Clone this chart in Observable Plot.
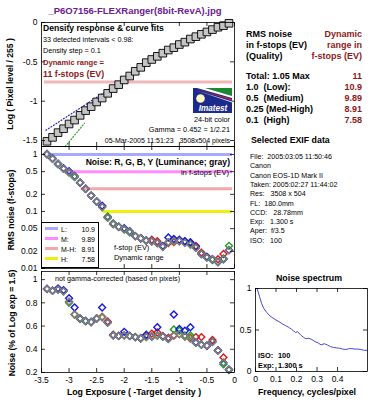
<!DOCTYPE html>
<html><head><meta charset="utf-8">
<script src="https://cdn.jsdelivr.net/npm/d3@7"></script>
<script src="https://cdn.jsdelivr.net/npm/@observablehq/plot@0.6"></script>
<style>
body{margin:0;background:#fff}
#root{position:relative;width:373px;height:400px;overflow:hidden;background:#fff;font-family:"Liberation Sans",Arial,sans-serif;color:#000}
.t{position:absolute;white-space:pre;line-height:1}
</style></head><body><div id="root"></div>
<script>
// ---------- data ----------
const logExposure = [-3.4,-3.3,-3.2,-3.1,-3.0,-2.9,-2.8,-2.7,-2.6,-2.5,-2.4,-2.3,-2.2,-2.1,-2.0,-1.9,-1.8,-1.7,-1.6,-1.5,-1.4,-1.3,-1.2,-1.1,-1.0,-0.9,-0.8,-0.7,-0.6,-0.5,-0.4,-0.3,-0.2,-0.1];
const densityResponse = [-1.51,-1.46,-1.40,-1.35,-1.29,-1.24,-1.18,-1.12,-1.07,-1.01,-0.96,-0.90,-0.84,-0.79,-0.73,-0.68,-0.62,-0.57,-0.51,-0.47,-0.43,-0.39,-0.35,-0.32,-0.28,-0.25,-0.21,-0.18,-0.15,-0.12,-0.09,-0.06,-0.04,-0.01];
const blueFitX = [-3.42,-2.1], blueFitY = [-1.37,-0.77];
const greenFitX = [-3.07,-2.72], greenFitY = [-1.576,-1.28];
const topRangeLevel = [-0.755];

const noiseY = [1.02,0.84,0.68,0.56,0.49,0.41,0.32,0.25,0.19,0.15,0.12,0.078,0.06,0.054,0.049,0.044,0.037,0.034,0.031,0.030,0.028,0.024,0.029,0.030,0.030,0.028,0.026,0.023,0.018,0.0155,0.0145,0.013,0.0145,0.021];
const noiseR = [1.01,0.85,0.68,0.57,0.49,0.41,0.32,0.25,0.19,0.15,0.12,0.079,0.061,0.054,0.049,0.044,0.037,0.034,0.031,0.032,0.030,0.024,0.028,0.029,0.030,0.029,0.028,0.025,0.019,0.016,0.0145,0.0145,0.018,0.021];
const noiseG = [1.01,0.84,0.67,0.56,0.48,0.40,0.32,0.25,0.19,0.15,0.12,0.082,0.062,0.054,0.048,0.043,0.037,0.034,0.031,0.030,0.028,0.024,0.029,0.031,0.031,0.030,0.027,0.023,0.018,0.0155,0.014,0.013,0.015,0.025];
const noiseB = [1.02,0.85,0.69,0.57,0.51,0.42,0.32,0.25,0.19,0.15,0.126,0.078,0.06,0.054,0.051,0.045,0.037,0.034,0.031,0.030,0.028,0.025,0.035,0.033,0.032,0.030,0.029,0.024,0.018,0.016,0.0145,0.013,0.0145,0.021];

const pctY = [0.92,0.905,0.915,0.90,0.81,0.70,0.665,0.645,0.635,0.665,0.675,0.63,0.52,0.515,0.52,0.515,0.505,0.495,0.505,0.51,0.515,0.51,0.49,0.515,0.53,0.51,0.49,0.455,0.44,0.43,0.465,0.39,0.285,0.225];
const pctR = [0.92,0.905,0.915,0.90,0.81,0.70,0.665,0.645,0.635,0.665,0.68,0.64,0.525,0.515,0.52,0.515,0.505,0.495,0.51,0.535,0.545,0.515,0.50,0.52,0.53,0.51,0.50,0.505,0.505,0.43,0.48,0.39,0.33,0.225];
const pctG = [0.92,0.905,0.915,0.90,0.80,0.70,0.66,0.64,0.635,0.665,0.675,0.63,0.52,0.515,0.52,0.515,0.505,0.495,0.505,0.51,0.52,0.51,0.49,0.57,0.56,0.52,0.52,0.455,0.44,0.43,0.465,0.39,0.27,0.22];
const pctB = [0.92,0.905,0.925,0.91,0.84,0.76,0.665,0.645,0.635,0.665,0.76,0.63,0.52,0.515,0.55,0.515,0.505,0.495,0.525,0.51,0.59,0.51,0.49,0.70,0.575,0.56,0.59,0.46,0.44,0.43,0.465,0.39,0.285,0.225];

const drLabels = ["L:","M:","M-H:","H:"];
const drValues = [10.9,9.89,8.91,7.58];
const drThresholds = [1,0.5,0.25,0.1];

const spectrumFreq = [0.008,0.02,0.03,0.04,0.055,0.07,0.085,0.1,0.115,0.13,0.145,0.16,0.175,0.185,0.195,0.205,0.22,0.235,0.245,0.26,0.275,0.29,0.305,0.32,0.335,0.35,0.365,0.38,0.395,0.41,0.425,0.44,0.455,0.47,0.485,0.5,0.515,0.53,0.545];
const spectrumAmp = [1.0,0.9,0.82,0.76,0.71,0.67,0.645,0.62,0.6,0.575,0.555,0.535,0.51,0.49,0.47,0.48,0.44,0.41,0.395,0.4,0.385,0.36,0.345,0.32,0.335,0.32,0.3,0.29,0.285,0.28,0.27,0.265,0.275,0.275,0.27,0.27,0.265,0.255,0.255];

const xTicks = [-3.5,-3,-2.5,-2,-1.5,-1,-0.5,0];
const topYTicks = [0,-0.5,-1,-1.5];
const midYTicks = [1,0.5,0.2,0.1,0.05,0.02,0.01];
const botYTicks = [1,0.8,0.6,0.4,0.2];
const specXTicks = [0,0.1,0.2,0.3,0.4];
const specYTicks = [0,0.5,1];

const qualityLabels = ["Total: 1.05 Max","1.0  (Low):","0.5  (Medium)","0.25 (Med-High)","0.1  (High)"];
const rangeLabels = ["11","10.9","9.89","8.91","7.58"];
const exifLines = ["File:  2005:03:05 11:50:46","Canon","Canon EOS-1D Mark II","Taken: 2005:02:27 11:44:02","Res:   3508 x 504","FL:  180.0mm","CCD:   28.78mm","Exp:   1.300 s","Aper:  f/3.5","ISO:   100"];

// ---------- styles ----------
const channelColors = {R:"#e01818", G:"#18a018", B:"#1818e0", Y:"#808080"};
const drColors = ["#a8a8ff","#ff8cff","#f4a8a8","#eeee10"];
const darkRed = "#8b1a1a";

const root = document.getElementById("root");
function addText(str, x, y, o = {}) {
  const d = document.createElement("div");
  d.className = "t";
  d.textContent = str;
  const size = o.size || 8;
  d.style.fontSize = size + "px";
  d.style.fontWeight = o.weight || "normal";
  d.style.color = o.color || "#000";
  if (o.italic) d.style.fontStyle = "italic";
  d.style.left = x + "px";
  d.style.top = y + "px";
  const tx = o.anchor === "end" ? "-100%" : o.anchor === "middle" ? "-50%" : "0";
  d.style.transform = o.rotate ? "translate(-50%,-50%) rotate(-90deg)" : `translate(${tx},-50%)`;
  root.appendChild(d);
  return d;
}
function place(svg, left, top) {
  svg.style.position = "absolute";
  svg.style.left = left + "px";
  svg.style.top = top + "px";
  root.appendChild(svg);
}
const svgStyle = "background:transparent;overflow:visible;font-family:'Liberation Sans',Arial,sans-serif;font-size:8.5px;color:#000;";

const FL = 41, FR = 234, PAD = 12;
function leftPanel({frameTop, frameBottom, y, yTicks, marks, xLabels}) {
  const H = frameBottom - frameTop, W = FR - FL;
  const svg = Plot.plot({
    width: 240, height: H + 2 * PAD,
    marginLeft: FL, marginRight: 240 - FR, marginTop: PAD, marginBottom: PAD,
    x: {domain: [-3.5, 0], axis: null},
    y: {...y, axis: null},
    style: svgStyle,
    marks: [
      ...marks,
      Plot.frame({stroke: "#000", strokeWidth: 0.8}),
      Plot.tickX(xTicks, {x: d => d, insetTop: H - 4, strokeWidth: 0.8}),
      Plot.tickX(xTicks, {x: d => d, insetBottom: H - 4, strokeWidth: 0.8}),
      Plot.tickY(yTicks, {y: d => d, insetRight: W - 4, strokeWidth: 0.8}),
      Plot.tickY(yTicks, {y: d => d, insetLeft: W - 4, strokeWidth: 0.8}),
      Plot.axisY({ticks: yTicks, tickSize: 0, tickPadding: 4, tickFormat: d => String(d), label: null, fontSize: 8.5}),
      ...(xLabels ? [Plot.axisX({ticks: xTicks, tickSize: 0, tickPadding: 4, tickFormat: d => String(d), label: null, fontSize: 8.5})] : [])
    ]
  });
  place(svg, 0, frameTop - PAD);
}

// ---------- top panel: density response ----------
const topData = logExposure.map((x, i) => ({x, y: densityResponse[i]}));
leftPanel({
  frameTop: 22, frameBottom: 146,
  y: {domain: [-1.576, 0]},
  yTicks: topYTicks,
  marks: [
    Plot.ruleY(topRangeLevel, {y: d => d, stroke: "#f0b8b8", strokeWidth: 3, insetLeft: 3, insetRight: 2}),
    Plot.line(blueFitX.map((x, i) => ({x, y: blueFitY[i]})), {x: "x", y: "y", stroke: "#2828b8", strokeWidth: 1.2, strokeDasharray: "1,2"}),
    Plot.line(greenFitX.map((x, i) => ({x, y: greenFitY[i]})), {x: "x", y: "y", stroke: "#28a028", strokeWidth: 1.2, strokeDasharray: "1,2"}),
    Plot.dot(topData, {x: "x", y: "y", symbol: "square", r: 4.3, fill: "#c4c4c4", stroke: "#000", strokeWidth: 0.9})
  ]
});

// ---------- middle panel: RMS noise ----------
function channelRows(values, ch) { return logExposure.map((x, i) => ({x, v: values[i], ch})); }
const ln2 = Math.log10(2);
const drRows = drThresholds.map((t, i) => ({t, x1: -0.1 - drValues[i] * ln2, color: drColors[i]}));
const midDots = [...channelRows(noiseR, "R"), ...channelRows(noiseG, "G"), ...channelRows(noiseB, "B"), ...channelRows(noiseY, "Y")];
leftPanel({
  frameTop: 146, frameBottom: 268,
  y: {type: "log", domain: [0.01, 1.38]},
  yTicks: midYTicks,
  marks: [
    Plot.ruleY(drRows, {y: "t", x1: "x1", x2: 0, stroke: "color", strokeWidth: 3, insetRight: 2}),
    Plot.dot(midDots, {x: "x", y: "v", symbol: "diamond2", r: 3.1, fill: "none", stroke: d => channelColors[d.ch], strokeWidth: 1.4})
  ]
});

// ---------- bottom panel: noise % ----------
const botDots = [...channelRows(pctR, "R"), ...channelRows(pctG, "G"), ...channelRows(pctB, "B"), ...channelRows(pctY, "Y")];
leftPanel({
  frameTop: 271, frameBottom: 372,
  y: {domain: [0.2, 1.07]},
  yTicks: botYTicks,
  xLabels: true,
  marks: [
    Plot.dot(botDots, {x: "x", y: "v", symbol: "diamond2", r: 3.1, fill: "none", stroke: d => channelColors[d.ch], strokeWidth: 1.4})
  ]
});

// ---------- noise spectrum ----------
{
  const frameTop = 288, frameBottom = 371, left = 235, fl = 20, fr = 6, width = 373 - left;
  const H = frameBottom - frameTop, W = width - fl - fr;
  const svg = Plot.plot({
    width, height: H + 2 * PAD,
    marginLeft: fl, marginRight: fr, marginTop: PAD, marginBottom: PAD,
    x: {domain: [0, 0.546], axis: null},
    y: {domain: [0, 1], axis: null},
    style: svgStyle,
    marks: [
      Plot.line(spectrumFreq.map((f, i) => ({f, a: spectrumAmp[i]})), {x: "f", y: "a", stroke: "#4848d0", strokeWidth: 1}),
      Plot.frame({stroke: "#000", strokeWidth: 0.8}),
      Plot.tickX(specXTicks, {x: d => d, insetTop: H - 4, strokeWidth: 0.8}),
      Plot.tickX(specXTicks, {x: d => d, insetBottom: H - 4, strokeWidth: 0.8}),
      Plot.tickY(specYTicks, {y: d => d, insetRight: W - 4, strokeWidth: 0.8}),
      Plot.tickY(specYTicks, {y: d => d, insetLeft: W - 4, strokeWidth: 0.8}),
      Plot.axisY({ticks: specYTicks, tickSize: 0, tickPadding: 4, tickFormat: d => String(d), label: null, fontSize: 8.5}),
      Plot.axisX({ticks: specXTicks, tickSize: 0, tickPadding: 4, tickFormat: d => String(d), label: null, fontSize: 8.5})
    ]
  });
  place(svg, left, frameTop - PAD);
}

// ---------- texts ----------
addText("_P6O7156-FLEXRanger(8bit-RevA).jpg", 135, 11, {size: 9.5, weight: "bold", color: "#6a2090", anchor: "middle"});

addText("Density response & curve fits", 43, 28, {size: 8.6, weight: "bold"});
addText("33 detected intervals < 0.98:", 43, 40, {size: 7.2});
addText("Density step = 0.1", 43, 51, {size: 7.2});
addText("Dynamic range =", 43, 62.5, {size: 7.6, weight: "bold", color: darkRed});
addText("11 f-stops (EV)", 43, 74, {size: 8.8, weight: "bold", color: darkRed});
addText("24-bit color", 230, 120, {size: 7.3, anchor: "end"});
addText("Gamma = 0.452 = 1/2.21", 230, 130, {size: 7.3, anchor: "end"});
addText("05-Mar-2005 11:51:23   3508x504 pixels", 230, 140, {size: 7.0, anchor: "end"});

// Imatest logo
{
  const d = document.createElement("div");
  d.style.cssText = "position:absolute;left:193px;top:88px;width:39px;height:25px;";
  d.innerHTML = `<svg width="39" height="25" viewBox="0 0 39 25">
    <rect width="39" height="25" fill="#1c2a8c"/>
    <polygon points="12,0 39,0 39,8" fill="#1a8a2e"/>
    <polygon points="4,0 12,0 39,8 39,10" fill="#ffffff"/>
    <polygon points="3,1 39,11 39,12.5" fill="#d02020"/>
    <polygon points="2,2 39,13.5 39,14.5" fill="#e8e8ff"/>
    <circle cx="7.5" cy="10.5" r="4.3" fill="#fff8c0"/>
    <text x="20" y="22.5" font-size="8.2" font-style="italic" font-weight="bold" fill="#fff" text-anchor="middle" font-family="Liberation Sans, Arial">Imatest</text>
  </svg>`;
  root.appendChild(d);
}

addText("Noise: R, G, B, Y (Luminance; gray)", 230, 162, {size: 8.6, weight: "bold", anchor: "end"});
addText("in f-stops (EV)", 229, 172.5, {size: 7.6, anchor: "end"});
addText("f-stop (EV)", 114, 248, {size: 7.4});
addText("Dynamic range", 114, 258, {size: 7.4});

// legend box
{
  const box = document.createElement("div");
  box.style.cssText = "position:absolute;left:41px;top:222px;width:58px;height:46px;border:0.8px solid #000;background:#fff;box-sizing:border-box;";
  root.appendChild(box);
  drLabels.forEach((lab, i) => {
    const y = 228.5 + i * 10;
    const l = document.createElement("div");
    l.style.cssText = `position:absolute;left:45px;top:${y - 1.5}px;width:13px;height:3px;background:${drColors[i]};`;
    root.appendChild(l);
    addText(lab, 61, y, {size: 7});
    addText(String(drValues[i]), 95, y, {size: 7, anchor: "end"});
  });
}

addText("not gamma-corrected (based on pixels)", 55, 278.5, {size: 7.2});

// axis titles
addText("Log ( Pixel level / 255 )", 10, 84, {size: 8.6, weight: "bold", rotate: true});
addText("RMS noise (f-stops)", 11, 210, {size: 8.6, weight: "bold", rotate: true});
addText("Noise (% of Log exp = 1.5)", 12, 323, {size: 8.6, weight: "bold", rotate: true});
addText("Log Exposure ( -Target density )", 134, 391.5, {size: 8.8, weight: "bold", anchor: "middle"});

// right column
addText("RMS noise", 246, 34, {size: 9, weight: "bold"});
addText("in f-stops (EV)", 246, 45, {size: 9, weight: "bold"});
addText("(Quality)", 246, 56, {size: 9, weight: "bold"});
addText("Dynamic", 362, 34, {size: 9, weight: "bold", color: darkRed, anchor: "end"});
addText("range in", 362, 45, {size: 9, weight: "bold", color: darkRed, anchor: "end"});
addText("f-stops (EV)", 362, 56, {size: 9, weight: "bold", color: darkRed, anchor: "end"});
qualityLabels.forEach((s, i) => {
  const y = 76 + i * 11;
  addText(s, 246, y, {size: 9, weight: "bold"});
  addText(rangeLabels[i], 362, y, {size: 9, weight: "bold", color: darkRed, anchor: "end"});
});
addText("Selected EXIF data", 251, 140, {size: 8.8, weight: "bold"});
exifLines.forEach((s, i) => addText(s, 250, 158 + i * 9.3, {size: 7.1}));

addText("Noise spectrum", 309, 278, {size: 8.8, weight: "bold", anchor: "middle"});
addText("ISO:", 258, 356, {size: 7.4, weight: "bold"});
addText("100", 278, 356, {size: 7.4, weight: "bold"});
addText("Exp:", 258, 365.5, {size: 7.4, weight: "bold"});
addText("1.300 s", 278, 365.5, {size: 7.4, weight: "bold"});
addText("Frequency, cycles/pixel", 307, 391.5, {size: 8.8, weight: "bold", anchor: "middle"});
</script></body></html>
